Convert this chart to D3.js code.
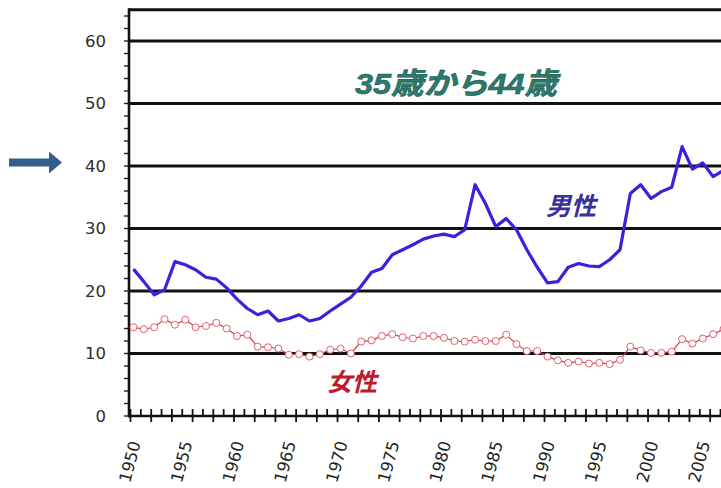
<!DOCTYPE html>
<html>
<head>
<meta charset="utf-8">
<script src="https://cdn.jsdelivr.net/npm/d3@7"></script>
<style>
  html, body { margin: 0; padding: 0; background: #fff; }
  svg { display: block; }
</style>
</head>
<body>
<svg id="chart" width="721" height="488"></svg>
<script>
// ---- data ----
const years = [1950,1951,1952,1953,1954,1955,1956,1957,1958,1959,
  1960,1961,1962,1963,1964,1965,1966,1967,1968,1969,
  1970,1971,1972,1973,1974,1975,1976,1977,1978,1979,
  1980,1981,1982,1983,1984,1985,1986,1987,1988,1989,
  1990,1991,1992,1993,1994,1995,1996,1997,1998,1999,
  2000,2001,2002,2003,2004,2005,2006,2007];
const men = [23.5,21.5,19.4,20.2,24.7,24.2,23.4,22.2,21.9,20.5,
  18.7,17.2,16.2,16.8,15.2,15.6,16.2,15.2,15.6,16.8,
  17.9,19.0,20.8,23.0,23.6,25.8,26.6,27.4,28.3,28.8,
  29.1,28.7,29.8,37.0,34.0,30.3,31.6,29.8,26.6,23.8,
  21.3,21.5,23.8,24.4,24.0,23.9,25.0,26.6,35.6,37.0,
  34.8,35.9,36.6,43.1,39.5,40.5,38.3,39.3];
const women = [14.2,13.9,14.2,15.5,14.6,15.4,14.2,14.4,14.9,14.0,
  12.8,13.0,11.1,11.0,10.8,9.8,9.9,9.5,9.9,10.6,
  10.8,10.0,11.9,12.1,12.8,13.1,12.6,12.4,12.8,12.8,
  12.5,12.0,11.9,12.2,12.0,12.0,13.0,11.5,10.4,10.4,
  9.5,8.9,8.5,8.7,8.4,8.5,8.3,9.0,11.1,10.5,
  10.1,10.1,10.3,12.3,11.6,12.4,13.1,13.9];
const yTickValues = [0,10,20,30,40,50,60];
const xLabelYears = [1950,1955,1960,1965,1970,1975,1980,1985,1990,1995,2000,2005];
const titleText = "35歳から44歳";
const menLabel = "男性";
const womenLabel = "女性";

// ---- layout ----
const svg = d3.select("#chart");
const axisX = 129, baseY = 416;
const x = d3.scaleLinear().domain([1950, 2007]).range([133.5, 723.5]);
const y = d3.scaleLinear().domain([0, 65]).range([416, 9.75]);
const tickShift = -3;

// grid lines (10..60) and top border
svg.append("g").selectAll("line")
  .data(yTickValues.filter(v => v > 0).concat([65]))
  .join("line")
  .attr("x1", axisX).attr("x2", 721)
  .attr("y1", d => y(d)).attr("y2", d => y(d))
  .attr("stroke", "#111").attr("stroke-width", 3);

// y axis minor ticks every 2
svg.append("g").selectAll("line")
  .data(d3.range(0, 65, 2))
  .join("line")
  .attr("x1", axisX - 5).attr("x2", axisX)
  .attr("y1", d => y(d)).attr("y2", d => y(d))
  .attr("stroke", "#222").attr("stroke-width", 1.4);

// y axis line
svg.append("line")
  .attr("x1", axisX).attr("x2", axisX)
  .attr("y1", y(65) - 1.5).attr("y2", baseY + 1.5)
  .attr("stroke", "#111").attr("stroke-width", 2.6);

// x axis line
svg.append("line")
  .attr("x1", axisX).attr("x2", 721)
  .attr("y1", baseY).attr("y2", baseY)
  .attr("stroke", "#111").attr("stroke-width", 2.6);

// x ticks
svg.append("g").selectAll("line")
  .data(years)
  .join("line")
  .attr("x1", d => x(d) + tickShift).attr("x2", d => x(d) + tickShift)
  .attr("y1", 409)
  .attr("y2", d => d % 2 === 0 ? 422 : 416)
  .attr("stroke", "#111").attr("stroke-width", 1.8);

// y labels
svg.append("g").selectAll("text")
  .data(yTickValues)
  .join("text")
  .attr("x", 106).attr("y", d => y(d))
  .attr("text-anchor", "end")
  .attr("dominant-baseline", "central")
  .attr("font-family", "DejaVu Sans, sans-serif")
  .attr("font-size", 16.5)
  .attr("fill", "#2e2e2e")
  .text(d => d);

// x labels
svg.append("g").selectAll("text")
  .data(xLabelYears)
  .join("text")
  .attr("transform", d => `translate(${x(d) + tickShift + 5},441.5) rotate(-75)`)
  .attr("text-anchor", "end")
  .attr("dominant-baseline", "central")
  .attr("font-family", "DejaVu Sans, sans-serif")
  .attr("font-size", 16.5)
  .attr("fill", "#1e1e1e")
  .text(d => d);

// women line with hollow circles
const womenData = years.map((yr, i) => [yr, women[i]]);
svg.append("path")
  .datum(womenData)
  .attr("fill", "none")
  .attr("stroke", "#d23a4c")
  .attr("stroke-width", 1.2)
  .attr("d", d3.line().x(d => x(d[0])).y(d => y(d[1])));
svg.append("g").selectAll("circle")
  .data(womenData)
  .join("circle")
  .attr("cx", d => x(d[0])).attr("cy", d => y(d[1]))
  .attr("r", 3.5)
  .attr("fill", "#fff")
  .attr("stroke", "#e0606e")
  .attr("stroke-width", 1);

// men line
const menData = years.map((yr, i) => [yr, men[i]]);
svg.append("path")
  .datum(menData)
  .attr("fill", "none")
  .attr("stroke", "#3c1fe0")
  .attr("stroke-width", 3.2)
  .attr("stroke-linejoin", "round")
  .attr("d", d3.line().x(d => x(d[0])).y(d => y(d[1])));

// title
svg.append("text")
  .attr("x", 355).attr("y", 94)
  .attr("textLength", 202)
  .attr("lengthAdjust", "spacingAndGlyphs")
  .attr("font-family", "Liberation Sans, Noto Sans CJK JP, sans-serif")
  .attr("font-size", 30).attr("font-weight", "bold").attr("font-style", "italic")
  .attr("fill", "#2b7a6e")
  .attr("stroke", "#1d5a50").attr("stroke-width", 0.6)
  .text(titleText);

// series labels
svg.append("text")
  .attr("x", 546).attr("y", 215)
  .attr("font-family", "Noto Sans CJK JP, sans-serif")
  .attr("font-size", 25).attr("font-weight", "bold").attr("font-style", "italic")
  .attr("fill", "#3a2fa0")
  .text(menLabel);
svg.append("text")
  .attr("x", 327).attr("y", 391)
  .attr("font-family", "Noto Sans CJK JP, sans-serif")
  .attr("font-size", 25).attr("font-weight", "bold").attr("font-style", "italic")
  .attr("fill", "#c0182c")
  .text(womenLabel);

// arrow
const ay = y(40) - 3.5;
svg.append("path")
  .attr("d", `M9,${ay-4} L49,${ay-4} L49,${ay-11} L62,${ay} L49,${ay+11} L49,${ay+4} L9,${ay+4} Z`)
  .attr("fill", "#345d8e");
</script>
</body>
</html>
